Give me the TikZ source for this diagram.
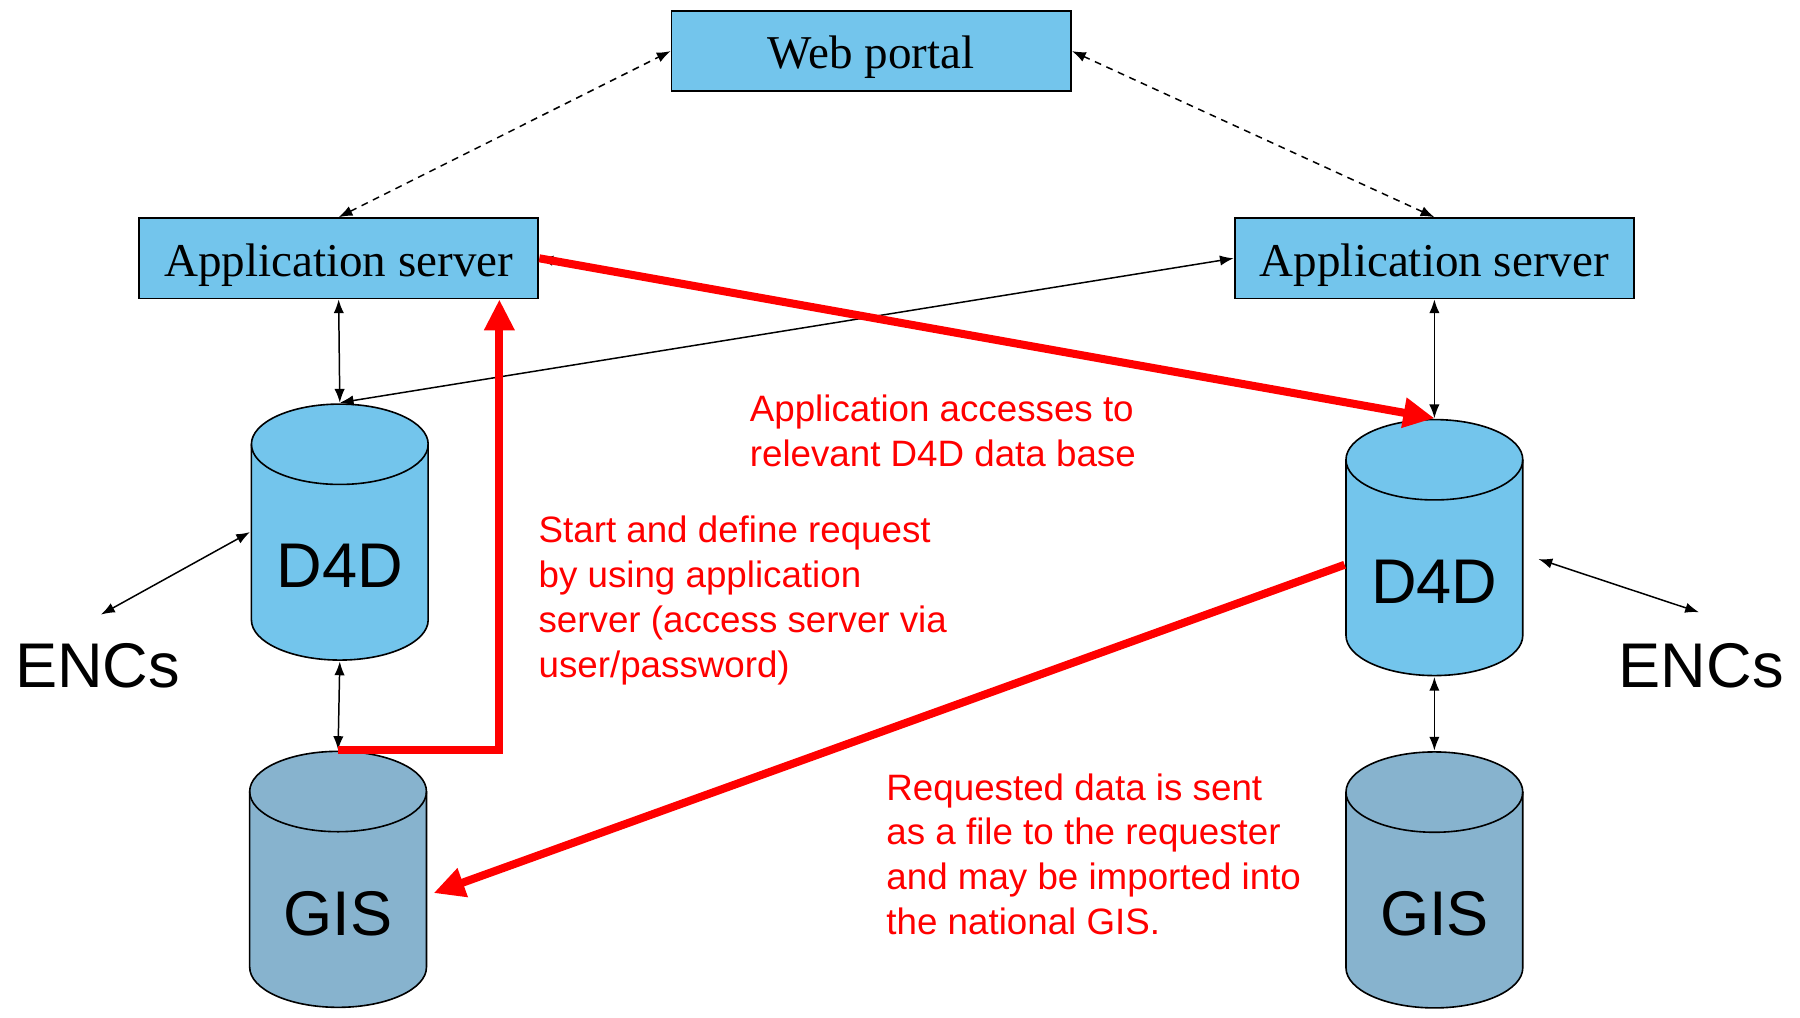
\documentclass[tikz,border=0pt]{standalone}
\usepackage{fontspec}
\setmainfont{Liberation Serif}
\setsansfont{Liberation Sans}
\usetikzlibrary{arrows.meta}
\definecolor{boxblue}{RGB}{115,197,236}
\definecolor{gisblue}{RGB}{135,179,206}
\begin{document}
\begin{tikzpicture}[x=1pt,y=-1pt]
	\tikzstyle{box} = [draw, line width=1.6pt, fill=boxblue, minimum width=348pt, minimum height=70pt, inner sep=0pt, text height=31pt, text depth=0pt, font=\fontsize{41}{49}\selectfont]
	\tikzset{db/.style={minimum width=156pt, minimum height=225pt, inner sep=0pt, text height=97pt, text depth=0pt, font=\sffamily\fontsize{55}{60}\selectfont,
		path picture={
			\draw[line width=1.4pt, fill=#1] ([shift={(-77,-76.5)}]path picture bounding box.center) -- ++(0,153)
				arc[start angle=180, end angle=360, x radius=77pt, y radius=35pt] -- ++(0,-153)
				arc[start angle=0, end angle=180, x radius=77pt, y radius=35pt] -- cycle;
			\draw[line width=1.4pt] ([shift={(-77,-76.5)}]path picture bounding box.center)
				arc[start angle=180, end angle=360, x radius=77pt, y radius=35pt];
		}}}
	\tikzstyle{enc} = [font=\sffamily\fontsize{55}{60}\selectfont, inner sep=0pt]
	\tikzstyle{note} = [text=red, align=left, anchor=north west, inner sep=0pt, font=\sffamily\fontsize{32}{39}\selectfont]
	\tikzstyle{dbl} = [line width=1.3pt, {Latex[length=12pt,width=9pt]}-{Latex[length=12pt,width=9pt]}]
	\tikzstyle{redarr} = [line width=7pt, red, -{Triangle[length=27pt,width=25pt]}]
	\useasboundingbox (0,0) rectangle (1568,886);
	\node[box] (portal) at (759,44.5) {Web portal};
	\node[box] (appL) at (295,225) {Application server};
	\node[box] (appR) at (1249.5,225) {Application server};
	\node[db=boxblue] (d4dL) at (296,463.5) {D4D};
	\node[db=gisblue] (gisL) at (294.5,766) {GIS};
	\node[db=boxblue] (d4dR) at (1249.5,477) {D4D};
	\node[db=gisblue] (gisR) at (1249.5,766.5) {GIS};
	\node[enc] (encL) at (85,580) {ENCs};
	\node[enc] (encR) at (1482,580) {ENCs};
	\draw[dbl, dash pattern=on 6pt off 5pt] (appL.north) -- (portal.west);
	\draw[dbl, dash pattern=on 6pt off 5pt] (appR.north) -- (portal.east);
	\draw[dbl] (appL.south) -- (d4dL.north);
	\draw[dbl] (d4dL.south) -- (gisL.north);
	\draw[dbl] ([xshift=3pt,yshift=25pt]encL.north) -- (d4dL.west);
	\draw[dbl] (appR.south) -- (d4dR.north);
	\draw[dbl] (d4dR.south) -- (gisR.north);
	\draw[dbl] ([xshift=12.5pt,yshift=-10pt]d4dR.east) -- ([xshift=-2pt,yshift=27pt]encR.north);
	\draw[dbl] (d4dL.north) -- (appR.west);
	\draw[dbl] (appL.east) -- (d4dR.north);
	\draw[redarr] (appL.east) -- (d4dR.north);
	\draw[redarr] (gisL.north) -| ([xshift=140pt]appL.south);
	\draw[redarr] ([yshift=-15pt]d4dR.west) -- ([xshift=5pt,yshift=-12pt]gisL.east);
	\node[note] (noteA) at (653,344) {Application accesses to\\relevant D4D data base};
	\node[note] (noteB) at (469,449.5) {Start and define request\\by using application\\server (access server via\\user/password)};
	\node[note] (noteC) at (772,673.5) {Requested data is sent\\as a file to the requester\\and may be imported into\\the national GIS.};
\end{tikzpicture}
\end{document}
